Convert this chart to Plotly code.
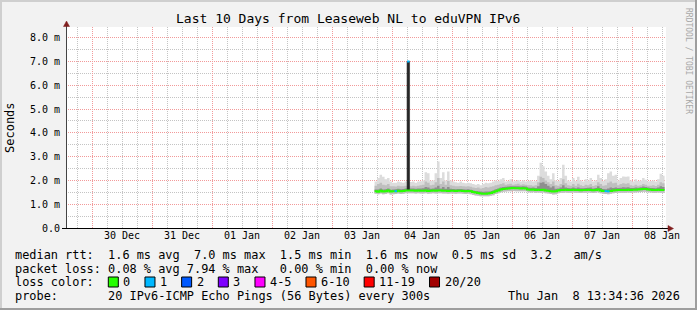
import pandas as pd
import plotly.graph_objects as go

# ---------------- data ----------------
window_start = "2025-12-29 13:34:36"
window_end = "2026-01-08 13:34:36"
first_sample = "2026-01-03 17:00"   # hourly samples from here on

rtt_median = [
    1.55, 1.52, 1.57, 1.53, 1.55, 1.58, 1.53, 1.54, 1.55, 1.57, 1.55, 1.56, 1.58,
    7.00,
    1.58, 1.58, 1.57, 1.58, 1.57, 1.57, 1.58, 1.56, 1.57, 1.58, 1.57, 1.58, 1.58,
    1.57, 1.57, 1.56, 1.57, 1.57, 1.56, 1.57, 1.57, 1.56, 1.55, 1.56, 1.54,
    1.51, 1.49, 1.47, 1.45, 1.44, 1.44, 1.45, 1.47, 1.50, 1.55, 1.58, 1.62, 1.64,
    1.65, 1.66, 1.67, 1.68, 1.67, 1.67, 1.66, 1.67, 1.66, 1.62, 1.61, 1.62, 1.60, 1.61, 1.60,
    1.61, 1.58, 1.57, 1.55, 1.53, 1.54, 1.58, 1.60,
    1.60, 1.61, 1.60, 1.60, 1.61, 1.60, 1.60, 1.59, 1.60, 1.60, 1.61, 1.60, 1.59, 1.60,
    1.62, 1.58, 1.56, 1.55, 1.54, 1.56, 1.58,
    1.59, 1.60, 1.60, 1.60, 1.60, 1.61, 1.60, 1.61, 1.61, 1.62, 1.63, 1.64, 1.64, 1.62,
    1.61, 1.60, 1.60, 1.61, 1.60, 1.60, 1.60,
]
smoke_low = [
    1.44, 1.42, 1.45, 1.42, 1.43, 1.46, 1.41, 1.42, 1.43, 1.45, 1.43, 1.44, 1.46,
    1.46,
    1.46, 1.46, 1.45, 1.46, 1.45, 1.45, 1.46, 1.44, 1.45, 1.46, 1.45, 1.46, 1.46,
    1.45, 1.45, 1.44, 1.45, 1.45, 1.44, 1.45, 1.45, 1.44, 1.43, 1.44, 1.42,
    1.39, 1.37, 1.36, 1.34, 1.33, 1.33, 1.34, 1.36, 1.38, 1.43, 1.46, 1.50, 1.52,
    1.53, 1.54, 1.55, 1.56, 1.55, 1.55, 1.54, 1.55, 1.54, 1.50, 1.49, 1.50, 1.48, 1.49, 1.48,
    1.49, 1.46, 1.45, 1.43, 1.41, 1.42, 1.46, 1.48,
    1.48, 1.49, 1.48, 1.48, 1.49, 1.48, 1.48, 1.47, 1.48, 1.48, 1.49, 1.48, 1.47, 1.48,
    1.50, 1.46, 1.44, 1.43, 1.42, 1.44, 1.46,
    1.47, 1.48, 1.48, 1.48, 1.48, 1.49, 1.48, 1.49, 1.49, 1.50, 1.51, 1.52, 1.52, 1.50,
    1.49, 1.48, 1.48, 1.49, 1.48, 1.48, 1.48,
]
smoke_dark = [
    1.62, 1.62, 1.66, 1.62, 1.63, 1.66, 1.61, 1.62, 1.63, 1.65, 1.63, 1.64, 1.66,
    7.00,
    1.66, 1.66, 1.65, 1.66, 1.66, 1.67, 1.72, 1.70, 1.65, 1.66, 1.70, 1.78, 1.66,
    1.72, 1.65, 1.72, 1.65, 1.64, 1.63, 1.64, 1.64, 1.63, 1.62, 1.63, 1.61,
    1.58, 1.56, 1.55, 1.53, 1.52, 1.53, 1.53, 1.55, 1.58, 1.63, 1.66, 1.70, 1.72,
    1.73, 1.74, 1.75, 1.76, 1.75, 1.75, 1.74, 1.75, 1.74, 1.70, 1.69, 1.70, 1.68, 1.75, 1.90,
    1.92, 1.85, 1.78, 1.70, 1.75, 1.65, 1.66, 1.70,
    1.80, 1.70, 1.68, 1.67, 1.70, 1.67, 1.70, 1.67, 1.67, 1.68, 1.69, 1.70, 1.66, 1.68,
    1.75, 1.68, 1.64, 1.63, 1.66, 1.70, 1.68,
    1.70, 1.68, 1.69, 1.71, 1.70, 1.71, 1.68, 1.68, 1.70, 1.69, 1.71, 1.74, 1.72, 1.70,
    1.68, 1.68, 1.67, 1.70, 1.75, 1.72, 1.68,
]
smoke_mid = [
    1.78, 1.85, 1.90, 1.82, 1.80, 1.85, 1.76, 1.75, 1.74, 1.78, 1.76, 1.75, 1.78,
    1.78,
    1.76, 1.78, 1.75, 1.78, 1.80, 1.82, 1.95, 1.90, 1.80, 1.82, 1.92, 2.10, 1.85,
    1.95, 1.82, 1.98, 1.80, 1.78, 1.76, 1.75, 1.77, 1.75, 1.74, 1.75, 1.73,
    1.70, 1.68, 1.70, 1.66, 1.68, 1.72, 1.70, 1.73, 1.76, 1.80, 1.82, 1.85, 1.88,
    1.82, 1.84, 1.86, 1.82, 1.84, 1.86, 1.82, 1.84, 1.82, 1.80, 1.80, 1.78, 1.80, 1.92, 2.15,
    2.10, 2.00, 1.92, 1.85, 1.95, 1.80, 1.78, 1.85,
    2.05, 1.88, 1.80, 1.78, 1.85, 1.78, 1.86, 1.80, 1.77, 1.82, 1.80, 1.85, 1.77, 1.80,
    1.92, 1.85, 1.78, 1.80, 1.90, 1.95, 1.88,
    1.90, 1.80, 1.85, 1.88, 1.86, 1.88, 1.80, 1.78, 1.82, 1.78, 1.80, 1.85, 1.82, 1.78,
    1.78, 1.80, 1.77, 1.82, 1.92, 1.88, 1.80,
]
smoke_high = [
    1.95, 2.10, 2.24, 2.15, 2.05, 2.10, 1.95, 1.90, 1.90, 1.95, 1.92, 1.90, 1.95,
    1.95,
    1.93, 1.95, 1.90, 1.95, 1.97, 2.00, 2.34, 2.30, 1.99, 2.00, 2.30, 2.80, 2.10,
    2.34, 2.00, 2.38, 2.00, 1.95, 1.92, 1.90, 1.95, 1.90, 1.88, 1.90, 1.88,
    1.85, 1.82, 1.85, 1.80, 1.85, 1.90, 1.88, 1.90, 1.95, 2.00, 1.98, 2.05, 2.10,
    1.95, 1.98, 2.05, 1.95, 1.98, 2.02, 1.95, 2.00, 1.96, 1.98, 2.00, 1.95, 1.98, 2.20, 2.74,
    2.60, 2.38, 2.20, 2.05, 2.30, 2.00, 1.98, 2.10,
    2.66, 2.20, 2.00, 1.95, 2.10, 1.98, 2.15, 2.00, 1.95, 2.05, 2.00, 2.10, 1.95, 2.00,
    2.24, 2.10, 1.98, 2.05, 2.30, 2.38, 2.20,
    2.24, 2.00, 2.10, 2.17, 2.15, 2.17, 2.00, 1.96, 2.05, 1.98, 2.00, 2.10, 2.03, 1.95,
    1.98, 2.00, 1.95, 2.05, 2.28, 2.20, 2.00,
]

loss_times = ["2026-01-04 01:00", "2026-01-04 06:00", "2026-01-07 13:00", "2026-01-07 14:00"]
loss_pings = [1, 1, 1, 1]

spike_time = "2026-01-04 06:00"
spike_low = 1.58
spike_high = 7.00

y_tick_values = [0, 1, 2, 3, 4, 5, 6, 7, 8]
y_tick_labels = ["0.0", "1.0 m", "2.0 m", "3.0 m", "4.0 m", "5.0 m", "6.0 m", "7.0 m", "8.0 m"]
day_label_times = ["2025-12-30 12:00", "2025-12-31 12:00", "2026-01-01 12:00", "2026-01-02 12:00",
                   "2026-01-03 12:00", "2026-01-04 12:00", "2026-01-05 12:00", "2026-01-06 12:00",
                   "2026-01-07 12:00", "2026-01-08 12:00"]
day_labels = ["30 Dec", "31 Dec", "01 Jan", "02 Jan", "03 Jan", "04 Jan", "05 Jan", "06 Jan",
              "07 Jan", "08 Jan"]

loss_labels = ["0", "1", "2", "3", "4-5", "6-10", "11-19", "20/20"]
loss_colors = ["#26ff00", "#00b8ff", "#0059ff", "#7e00ff", "#ff00ff", "#ff5500", "#ff0000", "#a10000"]

title_text = "Last 10 Days from Leaseweb NL to eduVPN IPv6"
stat_line_rtt = "median rtt:  1.6 ms avg  7.0 ms max  1.5 ms min  1.6 ms now  0.5 ms sd  3.2   am/s"
stat_line_loss = "packet loss: 0.08 % avg 7.94 % max   0.00 % min  0.00 % now"
loss_caption = "loss color:"
probe_line = "probe:       20 IPv6-ICMP Echo Pings (56 Bytes) every 300s"
stamp_text = "Thu Jan  8 13:34:36 2026"

# ---------------- styling ----------------
W, H = 697, 310
PL, PR, PT, PB = 66, 666, 27, 228
MONO = "DejaVu Sans Mono"
GRID = "#c4c4c4"
MGRID = "#f29a9a"
ARROW = "#801f1f"
LEG_SIZE = 11.9


def px(x):
    return (x - PL) / (PR - PL)


def py(y):
    return (PB - y) / (PB - PT)


def loss_color(n):
    if n <= 3:
        return loss_colors[n]
    if n <= 5:
        return loss_colors[4]
    if n <= 10:
        return loss_colors[5]
    if n <= 19:
        return loss_colors[6]
    return loss_colors[7]


times = pd.date_range(first_sample, periods=len(rtt_median), freq="h")
step = pd.Timedelta(hours=1)

fig = go.Figure()


def band(lower, upper, color):
    fig.add_trace(go.Scatter(x=times, y=lower, mode="lines", line=dict(width=0, shape="hv"),
                             hoverinfo="skip", showlegend=False))
    fig.add_trace(go.Scatter(x=times, y=upper, mode="lines", line=dict(width=0, shape="hv"),
                             fill="tonexty", fillcolor=color, hoverinfo="skip", showlegend=False))


band(smoke_low, smoke_high, "#dcdcdc")
band(smoke_low, smoke_mid, "#bfbfbf")
band(rtt_median, smoke_dark, "#8e8e8e")

# dense smoke of the 7 ms event
ts = pd.Timestamp(spike_time)
fig.add_trace(go.Scatter(x=[ts, ts, ts + step, ts + step], y=[spike_low, spike_high, spike_high, spike_low],
                         mode="lines", fill="toself", fillcolor="#262626",
                         line=dict(width=0.6, color="#262626"), hoverinfo="skip", showlegend=False))

loss_ts = set(pd.to_datetime(loss_times))
green = [None if t in loss_ts else v for t, v in zip(times, rtt_median)]
fig.add_trace(go.Scatter(x=times, y=green, mode="lines", connectgaps=True,
                         line=dict(color=loss_colors[0], width=2, shape="hv"), showlegend=False))

median_at = dict(zip(times, rtt_median))
for t, n in zip(pd.to_datetime(loss_times), loss_pings):
    v = median_at[t]
    fig.add_trace(go.Scatter(x=[t, t + step], y=[v, v], mode="lines",
                             line=dict(color=loss_color(n), width=2), showlegend=False))

# carrier for the day-label axis
fig.add_trace(go.Scatter(x=day_label_times, y=[None] * len(day_label_times), xaxis="x2",
                         mode="lines", hoverinfo="skip", showlegend=False))

fig.update_layout(
    width=W, height=H,
    margin=dict(l=PL, r=W - PR, t=PT, b=H - PB, pad=0),
    paper_bgcolor="#f2f2f2", plot_bgcolor="#ffffff",
    showlegend=False,
    font=dict(family=MONO, size=10, color="#000000"),
    xaxis=dict(type="date", range=[window_start, window_end], showticklabels=False, ticks="",
               tick0="2025-12-30", dtick=86400000, showgrid=True, gridcolor=MGRID, gridwidth=1,
               griddash="1px,1px", zeroline=False, showline=False,
               minor=dict(tick0="2025-12-30", dtick=21600000, showgrid=True, gridcolor=GRID,
                          gridwidth=1, griddash="1px,1px")),
    xaxis2=dict(type="date", overlaying="x", anchor="y", side="bottom",
                range=[window_start, window_end], tickmode="array", tickvals=day_label_times,
                ticktext=day_labels, showgrid=False, ticks="", zeroline=False, showline=False,
                tickfont=dict(family=MONO, size=10)),
    yaxis=dict(range=[0, 8.45], tickmode="array", tickvals=y_tick_values, ticktext=y_tick_labels,
               showgrid=True, gridcolor=MGRID, gridwidth=1, griddash="1px,1px",
               ticks="outside", ticklen=3, tickcolor="rgba(0,0,0,0)", zeroline=False,
               showline=False, tickfont=dict(family=MONO, size=10),
               minor=dict(dtick=0.5, showgrid=True, gridcolor=GRID, gridwidth=1,
                          griddash="1px,1px")),
)

shapes = []
# frame shading
shapes.append(dict(type="rect", xref="paper", yref="paper", x0=px(0), x1=px(W), y0=py(0), y1=py(2),
                   fillcolor="#cfcfcf", line=dict(width=0), layer="above"))
shapes.append(dict(type="rect", xref="paper", yref="paper", x0=px(0), x1=px(2), y0=py(0), y1=py(H),
                   fillcolor="#cfcfcf", line=dict(width=0), layer="above"))
shapes.append(dict(type="rect", xref="paper", yref="paper", x0=px(0), x1=px(W), y0=py(H - 2), y1=py(H),
                   fillcolor="#9e9e9e", line=dict(width=0), layer="above"))
shapes.append(dict(type="rect", xref="paper", yref="paper", x0=px(W - 2), x1=px(W), y0=py(0), y1=py(H),
                   fillcolor="#9e9e9e", line=dict(width=0), layer="above"))
# axes
shapes.append(dict(type="line", xref="paper", yref="paper", x0=px(66.5), x1=px(66.5), y0=py(228), y1=py(25),
                   line=dict(color="#444444", width=1), layer="above"))
shapes.append(dict(type="line", xref="paper", yref="paper", x0=px(62), x1=px(669), y0=py(228.5), y1=py(228.5),
                   line=dict(color="#000000", width=1), layer="above"))
shapes.append(dict(type="path", xref="paper", yref="paper",
                   path=f"M{px(66.5)},{py(21)} L{px(63.5)},{py(26.5)} L{px(69.5)},{py(26.5)} Z",
                   fillcolor=ARROW, line=dict(color=ARROW, width=0.5), layer="above"))
shapes.append(dict(type="path", xref="paper", yref="paper",
                   path=f"M{px(673.5)},{py(228.5)} L{px(668)},{py(225.5)} L{px(668)},{py(231.5)} Z",
                   fillcolor=ARROW, line=dict(color=ARROW, width=0.5), layer="above"))

annotations = []


def text(s, x, y, size=LEG_SIZE, xanchor="left", color="#000000", angle=0):
    annotations.append(dict(text=s.replace(" ", "\u00a0"), x=px(x), y=py(y), xref="paper",
                            yref="paper", xanchor=xanchor, yanchor="middle", showarrow=False,
                            font=dict(family=MONO, size=size, color=color), textangle=angle,
                            borderpad=0))


text(title_text, 348, 19, size=13, xanchor="center")
text("Seconds", 10, 128, size=12, xanchor="center", angle=-90)
text("RRDTOOL / TOBI OETIKER", 689, 61, size=8, xanchor="center", color="#a8a8a8", angle=90)

CH = 7.17
X0 = 13.8
text(stat_line_rtt, X0, 255)
text(stat_line_loss, X0, 268.5)
text(loss_caption, X0, 282)
text(probe_line, X0, 296)
text(stamp_text, 681, 296, xanchor="right")

bx = 108.3
for lab, col in zip(loss_labels, loss_colors):
    shapes.append(dict(type="rect", xref="paper", yref="paper", x0=px(bx), x1=px(bx + 10),
                       y0=py(287), y1=py(277), fillcolor=col, line=dict(color="#000000", width=1),
                       layer="above"))
    text(lab, bx + 14, 282)
    bx = bx + 14.7 + len(lab) * CH + 14.8

fig.update_layout(shapes=shapes, annotations=annotations)
fig.write_html("out.html")
